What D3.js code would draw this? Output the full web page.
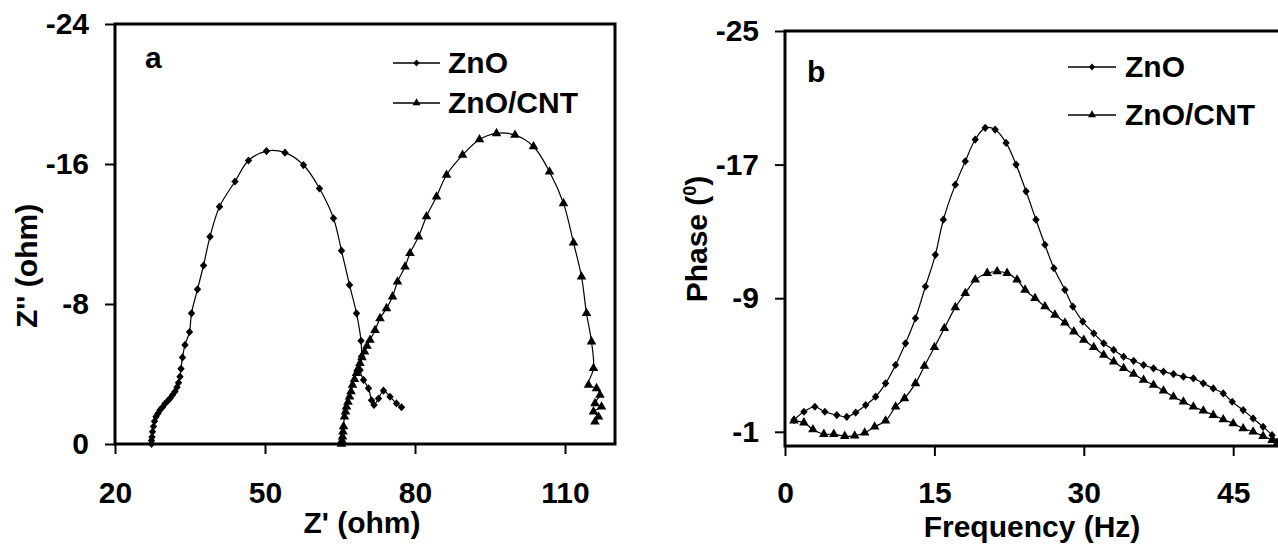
<!DOCTYPE html>
<html>
<head>
<meta charset="utf-8">
<title>ZnO and ZnO/CNT impedance</title>
<style>
  body { margin: 0; background: #fff; }
  text { font-family: "Liberation Sans", Arial, sans-serif; font-weight: bold; }
</style>
<script src="https://cdn.jsdelivr.net/npm/d3@7"></script>
</head>
<body>
<script>
// panel a : Nyquist plot, Z' and Z'' (ohm)
var zreZnO = [27.3, 27.3, 27.4, 27.5, 27.7, 27.9, 28.2, 28.6, 29.0, 29.5, 30.0, 30.5, 31.0, 31.5, 32.0, 32.4, 32.7, 33.0,
  33.2, 33.5, 34.0, 34.9, 35.3, 36.5, 37.7, 39.0, 40.9, 44.0, 46.7, 50.3, 54.0, 57.7, 60.9, 63.7, 65.3, 66.9,
  68.3, 69.2, 69.3, 69.0, 69.7, 70.7, 71.3, 71.8, 72.7, 73.7, 75.0, 76.3, 77.3];
var zimZnO = [0, -0.2, -0.4, -0.7, -1.0, -1.3, -1.56, -1.75, -1.94, -2.1, -2.3, -2.45, -2.6, -2.8, -3.0, -3.25, -3.5, -3.85,
  -4.3, -4.95, -5.66, -6.4, -7.47, -8.84, -10.2, -11.85, -13.56, -15.0, -16.2, -16.74, -16.65, -15.94, -14.6, -12.9, -11.05, -9.09,
  -7.47, -5.9, -5.0, -4.23, -3.66, -3.18, -2.5, -2.23, -2.6, -3.05, -2.7, -2.32, -2.1];

var zreCnt = [65.3, 65.4, 65.5, 65.6, 65.7, 65.9, 66.1, 66.3, 66.6, 66.9, 67.2, 67.5, 67.9, 68.3, 68.6, 69.0, 69.4, 69.9,
  70.4, 71.0, 72.0, 73.0, 74.3, 75.5, 76.5, 78.0, 79.0, 80.7, 82.3, 84.3, 86.3, 89.5, 92.9, 96.3, 100.0, 103.7,
  106.9, 109.7, 111.7, 113.3, 114.3, 115.3, 115.7, 114.7, 116.3, 117.0, 116.0, 117.3, 115.7, 116.7, 116.0];
var zimCnt = [0, -0.2, -0.42, -0.7, -1.0, -1.56, -1.85, -2.13, -2.4, -2.7, -3.0, -3.37, -3.7, -4.04, -4.3, -4.61, -4.95, -5.28,
  -5.6, -5.94, -6.5, -7.18, -7.75, -8.42, -9.27, -10.13, -10.9, -11.85, -13.0, -14.13, -15.37, -16.51, -17.4, -17.75, -17.66, -17.0,
  -15.56, -13.75, -11.5, -9.56, -7.47, -5.85, -4.33, -3.37, -3.18, -2.8, -2.32, -2.13, -1.85, -1.56, -1.27];

// panel b : phase (deg) against frequency (Hz)
var freqZnO = [0.9, 1.9, 3.0, 4.0, 5.2, 6.2, 7.1, 8.1, 9.1, 10.1, 11.1, 12.1, 13.1, 14.1, 15.1, 15.9, 17.1, 18.1,
  19.1, 20.1, 21.1, 22.2, 23.2, 24.2, 25.2, 26.1, 27.0, 28.1, 28.9, 29.9, 31.0, 32.0, 33.0, 34.0, 35.0, 36.0,
  37.0, 38.0, 39.0, 40.0, 41.0, 42.0, 43.0, 44.0, 44.9, 46.0, 47.0, 48.0, 48.9, 49.4];
var phaseZnO = [-1.71, -2.2, -2.5, -2.2, -2.0, -1.9, -2.15, -2.6, -3.1, -3.9, -5.0, -6.3, -7.8, -9.7, -11.6, -13.7, -15.8, -17.2,
  -18.5, -19.2, -19.1, -18.3, -17.0, -15.4, -13.7, -12.2, -10.8, -9.5, -8.5, -7.6, -6.9, -6.3, -5.9, -5.5, -5.25, -5.0,
  -4.8, -4.6, -4.46, -4.3, -4.2, -3.9, -3.6, -3.3, -2.8, -2.3, -1.8, -1.3, -0.8, -0.4];

var freqCnt = [0.9, 1.9, 2.8, 3.9, 4.9, 6.0, 7.0, 8.0, 9.0, 10.1, 11.1, 12.0, 13.1, 14.0, 15.0, 16.0, 17.1, 18.1,
  19.1, 20.3, 21.3, 22.3, 23.3, 24.1, 25.1, 26.1, 27.1, 28.1, 29.0, 30.0, 31.0, 32.0, 33.0, 34.0, 35.0, 36.0,
  37.0, 38.0, 39.0, 40.0, 41.0, 42.0, 43.0, 44.0, 45.0, 46.0, 47.0, 48.0, 48.9, 49.4];
var phaseCnt = [-1.66, -1.55, -1.14, -0.86, -0.86, -0.74, -0.76, -0.94, -1.3, -1.66, -2.5, -3.0, -3.9, -4.94, -6.06, -7.2, -8.45, -9.3,
  -10.1, -10.5, -10.6, -10.5, -10.1, -9.5, -9.0, -8.5, -8.0, -7.53, -7.0, -6.5, -6.06, -5.6, -5.2, -4.8, -4.46, -4.1,
  -3.8, -3.46, -3.1, -2.8, -2.5, -2.26, -2.0, -1.74, -1.5, -1.2, -1.0, -0.74, -0.5, -0.3];

var seriesNames = ["ZnO", "ZnO/CNT"];
var xTicksA = [20, 50, 80, 110], yTicksA = [-24, -16, -8, 0];
var xTicksB = [0, 15, 30, 45], yTicksB = [-25, -17, -9, -1];

var svg = d3.select("body").append("svg")
    .attr("width", 1278)
    .attr("height", 544);

// diamond marker, a little wider than d3's own
var diamond = {
  draw: function(ctx, size) {
    var h = Math.sqrt(size) / 1.5, w = h * 0.9;
    ctx.moveTo(0, -h); ctx.lineTo(w, 0); ctx.lineTo(0, h); ctx.lineTo(-w, 0); ctx.closePath();
  }
};

function styleAxis(g) {
  g.select(".domain").remove();
  g.selectAll(".tick line").attr("stroke", "#000").attr("stroke-width", 2);
  g.selectAll(".tick text").attr("fill", "#000")
    .style("font-size", "30px").style("font-family", "'Liberation Sans', Arial, sans-serif").style("font-weight", "bold");
}

function drawPanel(p) {
  var g = svg.append("g");
  var line = d3.line()
      .x(function(d) { return p.x(d[0]); })
      .y(function(d) { return p.y(d[1]); })
      .curve(d3.curveCatmullRom.alpha(0.5));

  p.series.forEach(function(s) {
    var pts = d3.zip(s.xs, s.ys);
    g.append("path").datum(pts)
        .attr("fill", "none").attr("stroke", "#000").attr("stroke-width", 1.2)
        .attr("d", line);
    g.selectAll(null).data(pts).enter().append("path")
        .attr("transform", function(d) { return "translate(" + p.x(d[0]) + "," + p.y(d[1]) + ")"; })
        .attr("d", d3.symbol().type(s.symbol).size(s.size))
        .attr("fill", "#000");
  });

  // frame
  var x0 = p.x.range()[0], x1 = p.x.range()[1], y0 = p.y.range()[0], y1 = p.y.range()[1];
  g.append("rect")
      .attr("x", x0).attr("y", y0).attr("width", x1 - x0).attr("height", y1 - y0)
      .attr("fill", "none").attr("stroke", "#000").attr("stroke-width", 3);

  g.append("g")
      .attr("transform", "translate(" + x0 + ",0)")
      .call(d3.axisLeft(p.y).tickValues(p.yTicks).tickSize(10).tickPadding(16).tickFormat(function(d) { return String(d); }))
      .call(styleAxis);
  g.append("g")
      .attr("transform", "translate(0," + y1 + ")")
      .call(d3.axisBottom(p.x).tickValues(p.xTicks).tickSize(10).tickPadding(p.xPad).tickFormat(function(d) { return String(d); }))
      .call(styleAxis);

  g.append("text").attr("x", p.letter[1]).attr("y", p.letter[2]).attr("font-size", 30).text(p.letter[0]);

  // legend
  p.series.forEach(function(s, i) {
    var ly = p.legend.y[i];
    g.append("line").attr("x1", p.legend.x1).attr("x2", p.legend.x2).attr("y1", ly).attr("y2", ly)
        .attr("stroke", "#000").attr("stroke-width", 1.5);
    g.append("path")
        .attr("transform", "translate(" + (p.legend.x1 + p.legend.x2) / 2 + "," + ly + ")")
        .attr("d", d3.symbol().type(s.symbol).size(s.size * 0.7))
        .attr("fill", "#000");
    g.append("text").attr("x", p.legend.tx).attr("y", ly + 10).attr("font-size", 30).text(seriesNames[i]);
  });
  return g;
}

var xA = d3.scaleLinear().domain([20, 120]).range([115, 615]);
var yA = d3.scaleLinear().domain([-24, 0]).range([24, 444]);
var gA = drawPanel({
  x: xA, y: yA, xTicks: xTicksA, yTicks: yTicksA, xPad: 28,
  letter: ["a", 145, 68],
  legend: { x1: 393, x2: 440, tx: 448, y: [63, 103] },
  series: [
    { xs: zreZnO, ys: zimZnO, symbol: diamond, size: 38 },
    { xs: zreCnt, ys: zimCnt, symbol: d3.symbolTriangle, size: 40 }
  ]
});
gA.append("text").attr("x", 362).attr("y", 533).attr("text-anchor", "middle").attr("font-size", 30).text("Z' (ohm)");
gA.append("text").attr("transform", "translate(37,266) rotate(-90)").attr("text-anchor", "middle")
    .attr("font-size", 30).text("Z'' (ohm)");

var xB = d3.scaleLinear().domain([0, 50]).range([785, 1283]);
var yB = d3.scaleLinear().domain([-25, -0.15]).range([31, 446]);
var gB = drawPanel({
  x: xB, y: yB, xTicks: xTicksB, yTicks: yTicksB, xPad: 26,
  letter: ["b", 807, 82],
  legend: { x1: 1068, x2: 1116, tx: 1125, y: [67, 115] },
  series: [
    { xs: freqZnO, ys: phaseZnO, symbol: diamond, size: 38 },
    { xs: freqCnt, ys: phaseCnt, symbol: d3.symbolTriangle, size: 40 }
  ]
});
gB.append("text").attr("x", 1032).attr("y", 537).attr("text-anchor", "middle").attr("font-size", 30).text("Frequency (Hz)");
var ph = gB.append("text").attr("transform", "translate(707,239) rotate(-90)").attr("text-anchor", "middle")
    .attr("font-size", 30);
ph.append("tspan").text("Phase (");
ph.append("tspan").attr("font-size", 18).attr("dy", -11).text("0");
ph.append("tspan").attr("dy", 11).text(")");
</script>
</body>
</html>
